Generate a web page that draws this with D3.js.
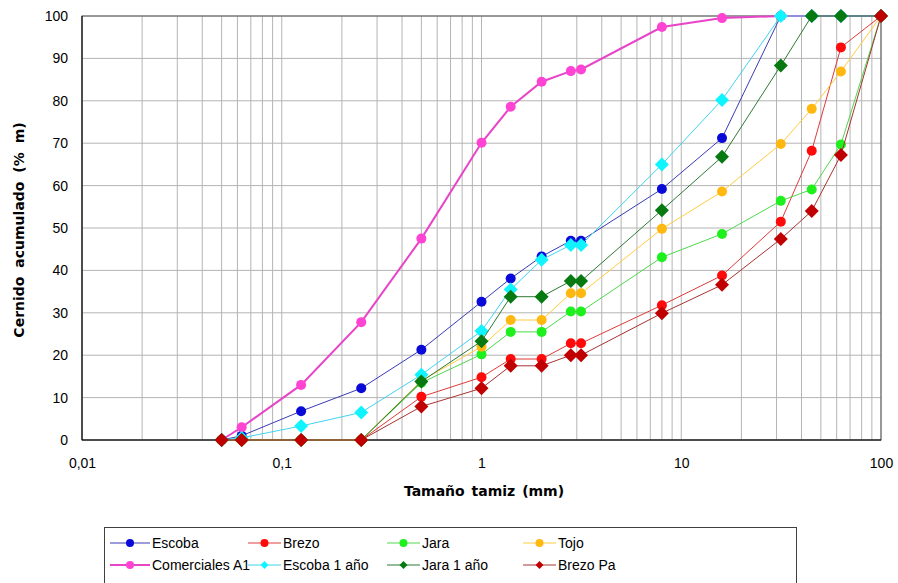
<!DOCTYPE html>
<html><head><meta charset="utf-8">
<script src="https://cdn.jsdelivr.net/npm/d3@7/dist/d3.min.js"></script>
<style>body{margin:0;background:#fff;} text{font-family:"Liberation Sans",Arial,sans-serif;}</style>
</head><body><svg id="c" width="898" height="583"></svg>
<script>
const sizes = [0.05,0.063,0.125,0.25,0.5,1,1.4,2,2.8,3.15,8,16,31.5,45,63,100];
const escoba      = [0,1,6.8,12.2,21.3,32.6,38.1,43.3,47,47,59.2,71.2,100,100,100,100];
const brezo       = [0,0,0,0,10.2,14.8,19.1,19.1,22.8,22.8,31.8,38.8,51.5,68.2,92.6,100];
const jara        = [0,0,0,0,13.5,20.2,25.5,25.5,30.3,30.3,43.1,48.6,56.4,59.1,69.7,100];
const tojo        = [0,0,0,0,14,22,28.3,28.3,34.6,34.6,49.8,58.6,69.8,78.1,86.9,100];
const comerciales = [0,3,13,27.8,47.5,70.1,78.6,84.5,87,87.4,97.4,99.5,100,100,100,100];
const escoba1     = [0,0.5,3.3,6.5,15.4,25.7,35.5,42.5,46,46,65,80.2,100,100,100,100];
const jara1       = [0,0,0,0,13.8,23.3,33.8,33.8,37.5,37.5,54.2,66.8,88.3,100,100,100];
const brezoPa     = [0,0,0,0,7.9,12.2,17.5,17.5,20,20,29.9,36.6,47.4,54,67.2,100];
const xTicks = [0.01,0.1,1,10,100];
const xTickLabels = ["0,01","0,1","1","10","100"];
const yTicks = [0,10,20,30,40,50,60,70,80,90,100];

const series = [
  {name:"Escoba", vals:escoba, line:"#3a3ab8", fill:"#0a0ad8", shape:"circle", w:1},
  {name:"Brezo", vals:brezo, line:"#e03a3a", fill:"#ff0a0a", shape:"circle", w:1},
  {name:"Jara", vals:jara, line:"#4ed84e", fill:"#1ef01e", shape:"circle", w:1},
  {name:"Tojo", vals:tojo, line:"#ffcc40", fill:"#ffb810", shape:"circle", w:1},
  {name:"Comerciales A1", vals:comerciales, line:"#e844c8", fill:"#ff44d4", shape:"circle", w:2},
  {name:"Escoba 1 año", vals:escoba1, line:"#40d4f0", fill:"#10f4ff", shape:"diamond", w:1},
  {name:"Jara 1 año", vals:jara1, line:"#2d7a35", fill:"#067a10", shape:"diamond", w:1},
  {name:"Brezo Pa", vals:brezoPa, line:"#a83232", fill:"#c00000", shape:"diamond", w:1}
];

const svg = d3.select("#c");
const L=82, R=881, T=16, B=440;
const x = d3.scaleLog().domain([0.01,100]).range([L,R]);
const y = d3.scaleLinear().domain([0,100]).range([B,T]);

// grid
const minor = [];
for (let e=-2;e<2;e++) for (let m=1;m<10;m++) minor.push(m*Math.pow(10,e));
minor.push(100);
svg.append("g").selectAll("line").data(minor).join("line")
  .attr("x1",d=>x(d)).attr("x2",d=>x(d)).attr("y1",T).attr("y2",B)
  .attr("stroke","#b4b4b4").attr("stroke-width",1);
svg.append("g").selectAll("line").data(yTicks).join("line")
  .attr("x1",L).attr("x2",R).attr("y1",d=>y(d)).attr("y2",d=>y(d))
  .attr("stroke","#b4b4b4").attr("stroke-width",1);
// frame
svg.append("rect").attr("x",L).attr("y",T).attr("width",R-L).attr("height",B-T)
  .attr("fill","none").attr("stroke","#595959").attr("stroke-width",1);
svg.append("line").attr("x1",L).attr("x2",L).attr("y1",T).attr("y2",B).attr("stroke","#000");
svg.append("line").attr("x1",L).attr("x2",R).attr("y1",B).attr("y2",B).attr("stroke","#000");

// axes labels
const xa = d3.axisBottom(x).tickValues(xTicks).tickSize(0).tickFormat((d,i)=>xTickLabels[i]);
const gx = svg.append("g").attr("transform",`translate(0,${B})`).call(xa);
gx.select(".domain").remove();
gx.selectAll("text").attr("font-size","14px").attr("fill","#000").attr("dy","0").attr("y",28)
  .attr("font-family","Liberation Sans, Arial, sans-serif");
const ya = d3.axisLeft(y).tickValues(yTicks).tickSize(0);
const gy = svg.append("g").attr("transform",`translate(${L},0)`).call(ya);
gy.select(".domain").remove();
gy.selectAll("text").attr("font-size","14px").attr("fill","#000").attr("x",-14)
  .attr("font-family","Liberation Sans, Arial, sans-serif");

svg.append("text").attr("x",484).attr("y",496).attr("text-anchor","middle")
  .attr("font-family","DejaVu Sans, sans-serif").style("font-family","DejaVu Sans, sans-serif")
  .attr("font-size","14px").attr("font-weight","bold").style("word-spacing","2px").text("Tamaño tamiz (mm)");
svg.append("text").attr("transform",`translate(24,230) rotate(-90)`).attr("text-anchor","middle")
  .style("font-family","DejaVu Sans, sans-serif")
  .attr("font-size","14px").attr("font-weight","bold").style("word-spacing","4px").text("Cernido acumulado (% m)");

// series
const line = d3.line().x(d=>x(d[0])).y(d=>y(d[1]));
function marker(g, s, cx, cy, big){
  if (s.shape==="circle"){
    g.append("circle").attr("cx",cx).attr("cy",cy).attr("r",big?5:4).attr("fill",s.fill);
  } else {
    const h = big?7:4;
    g.append("path").attr("d",`M${cx},${cy-h}L${cx+h},${cy}L${cx},${cy+h}L${cx-h},${cy}Z`).attr("fill",s.fill);
  }
}
series.forEach(s=>{
  const pts = sizes.map((v,i)=>[v,s.vals[i]]).filter(d=>d[1]!=null);
  const g = svg.append("g");
  g.append("path").attr("d",line(pts)).attr("fill","none").attr("stroke",s.line).attr("stroke-width",s.w);
  pts.forEach(p=>marker(g,s,x(p[0]),y(p[1]),true));
});

// legend
const lg = svg.append("g");
lg.append("rect").attr("x",104.5).attr("y",527.5).attr("width",692).attr("height",70)
  .attr("fill","#fff").attr("stroke","#404040");
const colX = [110,248,387,523];
series.forEach((s,i)=>{
  const cx = colX[i%4], cy = i<4?543:565;
  const w = (i%4===0)?40:33;
  lg.append("line").attr("x1",cx).attr("x2",cx+w).attr("y1",cy).attr("y2",cy).attr("stroke",s.line).attr("stroke-width",s.w);
  marker(lg,s,cx+w/2,cy,false);
  lg.append("text").attr("x",cx+w+2).attr("y",cy+5).attr("font-size","14px").text(s.name);
});
</script></body></html>
